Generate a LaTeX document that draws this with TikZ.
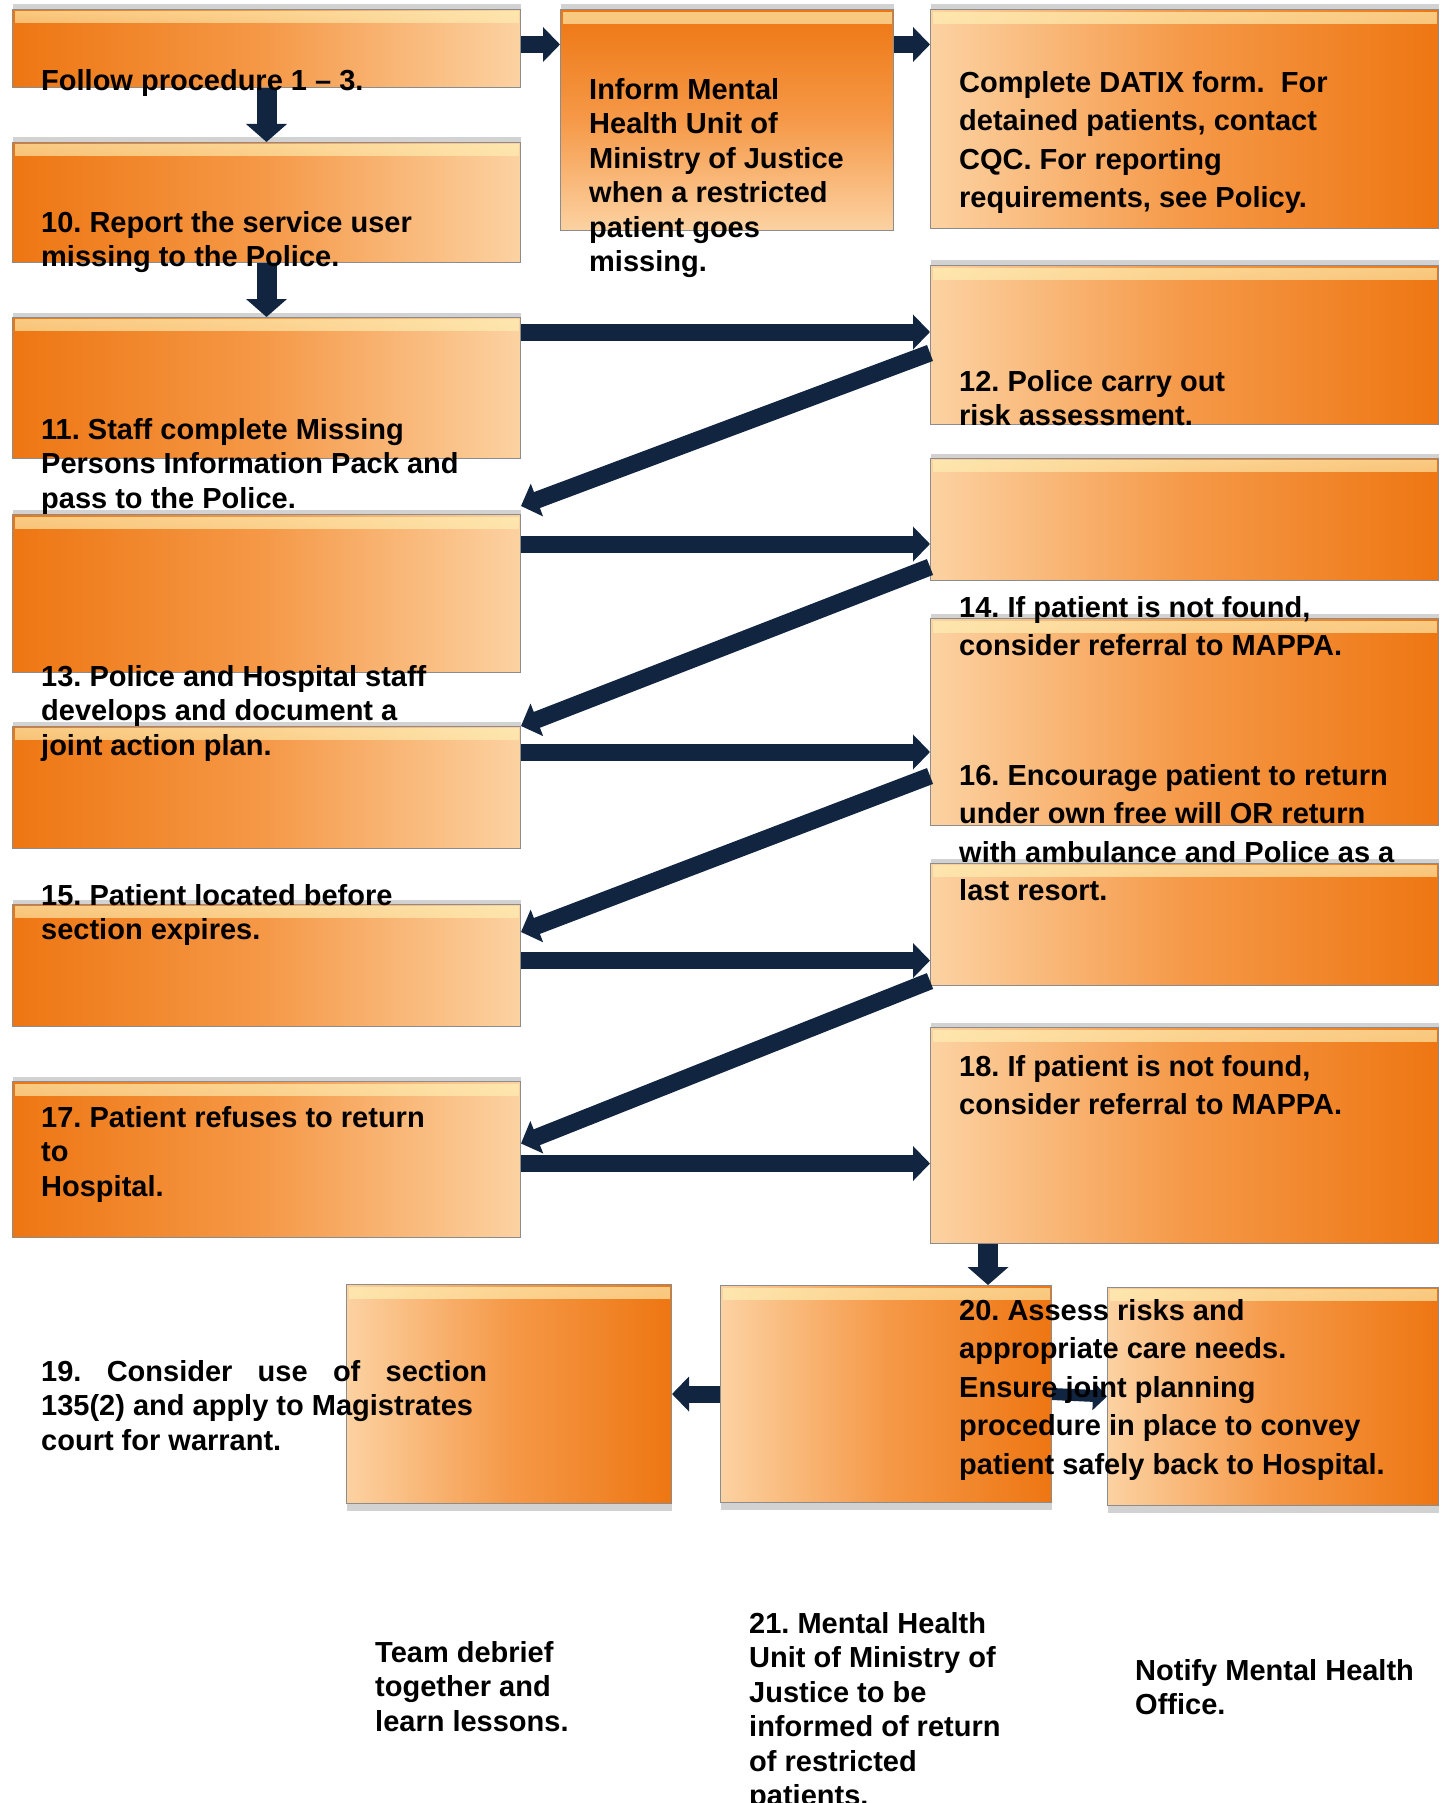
\documentclass[tikz,border=0pt]{standalone}
\usepackage{fontspec}
\setmainfont{Liberation Sans}
\usetikzlibrary{arrows.meta,shadows,fadings}
\definecolor{boxdark}{RGB}{238,118,18}
\definecolor{boxmid}{RGB}{245,153,72}
\definecolor{boxlight}{RGB}{252,210,162}
\definecolor{boxhigh}{RGB}{255,240,180}
\definecolor{navy}{RGB}{17,36,64}
\tikzstyle{line} = [draw=navy, line width=17pt, -{Triangle[length=17pt,width=34pt]}]
\tikzstyle{down} = [draw=navy, line width=20pt, -{Triangle[length=18pt,width=40pt]}]

\begin{document}
\frenchspacing
\begin{tikzpicture}[x=1pt,y=-1pt,
 item/.style={rectangle,draw=black!45,line width=1pt,inner sep=0pt,anchor=north west,
  path picture={\fill[boxhigh,opacity=.7,path fading=south] ([xshift=2pt,yshift=-2pt]path picture bounding box.north west)
   rectangle ([xshift=-2pt,yshift=-14pt]path picture bounding box.north east);}},
 up/.style={drop shadow={shadow xshift=0pt,shadow yshift=5pt,opacity=.25,fill=black!70}},
 dn/.style={drop shadow={shadow xshift=0pt,shadow yshift=-7pt,opacity=.25,fill=black!70}},
 lt/.style={item,up,left color=boxdark,right color=boxlight,middle color=boxmid,minimum width=508pt},
 rt/.style={item,up,left color=boxlight,right color=boxdark,middle color=boxmid,minimum width=508pt},
 tp/.style={item,up,top color=boxdark,bottom color=boxlight,middle color=boxmid},
 bt/.style={item,dn,left color=boxlight,right color=boxdark,middle color=boxmid},
 txt/.style={anchor=north west,inner sep=0pt,align=left,font=\fontsize{29}{34.5}\selectfont\bfseries},
 wide/.style={txt,font=\fontsize{29}{38.5}\selectfont\bfseries}]
 \useasboundingbox (0,0) rectangle (1447,1803);

 \node[lt,minimum height=78pt] (A) at (12,9) {};
 \node[lt,minimum height=120pt] (B) at (12,142) {};
 \node[lt,minimum height=141pt] (C) at (12,317) {};
 \node[lt,minimum height=158pt] (D) at (12,514) {};
 \node[lt,minimum height=122pt] (E) at (12,726) {};
 \node[lt,minimum height=122pt] (F) at (12,904) {};
 \node[lt,minimum height=156pt] (G) at (12,1081) {};
 \node[tp,minimum width=333pt,minimum height=221pt] (H) at (560,9) {};
 \node[rt,minimum height=219pt] (I) at (930,9) {};
 \node[rt,minimum height=159pt] (J) at (930,265) {};
 \node[rt,minimum height=122pt] (K) at (930,458) {};
 \node[rt,minimum height=207pt] (L) at (930,618) {};
 \node[rt,minimum height=122pt] (M) at (930,863) {};
 \node[rt,minimum height=216pt] (N) at (930,1027) {};
 \node[bt,minimum width=325pt,minimum height=219pt] (P) at (346,1284) {};
 \node[bt,minimum width=331pt,minimum height=217pt] (Q) at (720,1285) {};
 \node[bt,minimum width=331pt,minimum height=218pt] (R) at (1107,1287) {};

 \draw[line] ([yshift=4pt]A.east) -- ([yshift=4pt]A.east -| H.west);
 \draw[line] ([yshift=4pt]A.east -| H.east) -- ([yshift=4pt]A.east -| I.west);
 \draw[down] (A.south) -- (B.north);
 \draw[down] (B.south) -- (C.north);
 \draw[line] ([yshift=-15pt]C.north east) -- ([yshift=-15pt]C.north east -| J.west);
 \draw[line] ([yshift=-8pt]J.west) -- ([yshift=8pt]D.north east);
 \draw[line] ([yshift=-30pt]D.north east) -- ([yshift=-30pt]D.north east -| K.west);
 \draw[line] ([yshift=14pt]K.south west) -- (E.north east);
 \draw[line] ([yshift=-26pt]E.north east) -- ([yshift=-26pt]E.north east -| L.west);
 \draw[line] ([yshift=50pt]L.south west) -- ([yshift=-28pt]F.north east);
 \draw[line] ([yshift=5pt]F.east) -- ([yshift=5pt]F.east -| M.west);
 \draw[line] ([yshift=5pt]M.south west) -- ([yshift=16pt]G.east);
 \draw[line] ([yshift=-4pt]G.east) -- ([yshift=-4pt]G.east -| N.west);
 \draw[down] ([xshift=58pt]N.south west) -- ([xshift=58pt]N.south west |- Q.north);
 \draw[line] (Q.west) -- (P.east);
 \draw[line,line width=12pt,-{Triangle[length=14pt,width=28pt]}] (Q.east) -- (R.west);

 \node[txt] (tA) at (41,69) {Follow procedure 1 -- 3.};
 \node[txt] (tB) at (41,211) {10. Report the service user\\missing to the Police.};
 \node[txt] (tC) at (41,418) {11. Staff complete Missing\\Persons Information Pack and\\pass to the Police.};
 \node[txt] (tD) at (41,665) {13. Police and Hospital staff\\develops and document a\\joint action plan.};
 \node[txt] (tF) at (41,884) {15. Patient located before\\section expires.};
 \node[txt] (tG) at (41,1106) {17. Patient refuses to return\\to\\Hospital.};
 \node[txt] (tH) at (589,78) {Inform Mental\\Health Unit of\\Ministry of Justice\\when a restricted\\patient goes\\missing.};
 \node[wide] (tI) at (959,71) {Complete DATIX form.\ \ For\\detained patients, contact\\CQC. For reporting\\requirements, see Policy.};
 \node[txt] (tJ) at (959,370) {12. Police carry out\\risk assessment.};
 \node[wide] (tK) at (959,596) {14. If patient is not found,\\consider referral to MAPPA.};
 \node[wide] (tL) at (959,764) {16. Encourage patient to return\\under own free will OR return\\with ambulance and Police as a\\last resort.};
 \node[wide] (tN) at (959,1055) {18. If patient is not found,\\consider referral to MAPPA.};
 \node[txt] (t19) at (41,1360) {\makebox[446pt][s]{19. Consider use of section}\\135(2) and apply to Magistrates\\court for warrant.};
 \node[wide] (t20) at (959,1299) {20. Assess risks and\\appropriate care needs.\\Ensure joint planning\\procedure in place to convey\\patient safely back to Hospital.};
 \node[txt] (tTeam) at (375,1641) {Team debrief\\together and\\learn lessons.};
 \node[txt] (t21) at (749,1612) {21. Mental Health\\Unit of Ministry of\\Justice to be\\informed of return\\of restricted\\patients.};
 \node[txt] (tNote) at (1135,1659) {Notify Mental Health\\Office.};
\end{tikzpicture}
\end{document}
